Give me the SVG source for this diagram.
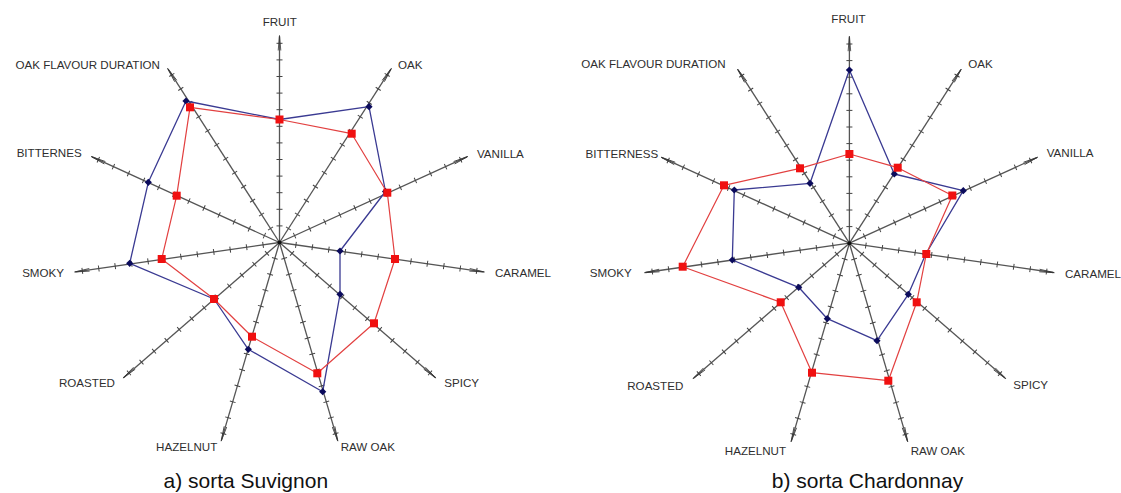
<svg xmlns="http://www.w3.org/2000/svg" xmlns:xlink="http://www.w3.org/1999/xlink" width="1121" height="493" viewBox="0 0 1121 493">
<style>
.bg{fill:#fff}
.axl{stroke:#555;stroke-width:1.3;fill:none}
.tk{stroke:#444;stroke-width:1;fill:none}
.ah{fill:none;stroke:#333;stroke-width:0.8}
.lbl{font-family:"Liberation Sans",Arial,sans-serif;font-size:11.6px;fill:#2e2e2e}
.cap{font-family:"Liberation Sans",Arial,sans-serif;font-size:21px;fill:#111}
.bl{fill:none;stroke:#3a3a92;stroke-width:1.3;stroke-linejoin:round}
.rl{fill:none;stroke:#e24040;stroke-width:1.2;stroke-linejoin:round}
.bm{fill:#0b0b5c}
.rm{fill:#f01010}
</style>
<defs>
<g id="ax">
<line class="axl" x1="0" y1="0" x2="0" y2="-206"/>
<path class="tk" d="M-3,-16.6h6M-3,-33.2h6M-3,-49.8h6M-3,-66.4h6M-3,-83h6M-3,-99.6h6M-3,-116.2h6M-3,-132.8h6M-3,-149.4h6M-3,-166h6M-3,-182.6h6M-3,-199.2h6"/>
<path class="ah" d="M-1.3,-192L0,-207L1.3,-192"/>
</g>
<rect id="sq" x="-4" y="-4" width="8" height="8"/>
<path id="dm" d="M0,-3.6L3.6,0L0,3.6L-3.6,0Z"/>
</defs>
<rect class="bg" x="0" y="0" width="1121" height="493"/>

<g id="chart-a">
<g id="axes-a" transform="translate(279.5,242.5)">
<use href="#ax" transform="rotate(0)"/>
<use href="#ax" transform="rotate(32.727)"/>
<use href="#ax" transform="rotate(65.455)"/>
<use href="#ax" transform="rotate(98.182)"/>
<use href="#ax" transform="rotate(130.909)"/>
<use href="#ax" transform="rotate(163.636)"/>
<use href="#ax" transform="rotate(196.364)"/>
<use href="#ax" transform="rotate(229.091)"/>
<use href="#ax" transform="rotate(261.818)"/>
<use href="#ax" transform="rotate(294.545)"/>
<use href="#ax" transform="rotate(327.273)"/>
<circle cx="0" cy="0" r="2" fill="#111"/>
</g>
<g id="labels-a">
<g id="a-fruit"><text class="lbl" x="279.7" y="26" text-anchor="middle">FRUIT</text></g>
<g id="a-oak"><text class="lbl" x="398" y="69.3">OAK</text></g>
<g id="a-vanilla"><text class="lbl" x="477" y="158.3">VANILLA</text></g>
<g id="a-caramel"><text class="lbl" x="495" y="276.7">CARAMEL</text></g>
<g id="a-spicy"><text class="lbl" x="444.3" y="386.7">SPICY</text></g>
<g id="a-rawoak"><text class="lbl" x="340.7" y="450.7">RAW OAK</text></g>
<g id="a-hazelnut"><text class="lbl" x="217.3" y="450.7" text-anchor="end">HAZELNUT</text></g>
<g id="a-roasted"><text class="lbl" x="115" y="386.7" text-anchor="end">ROASTED</text></g>
<g id="a-smoky"><text class="lbl" x="64" y="276.5" text-anchor="end">SMOKY</text></g>
<g id="a-bitternes"><text class="lbl" x="81.7" y="157" text-anchor="end">BITTERNES</text></g>
<g id="a-ofd"><text class="lbl" x="160" y="69.3" text-anchor="end">OAK FLAVOUR DURATION</text></g>
</g>
<g id="series-a">
<polygon class="bl" points="279.5,119.5 369,106.7 385.5,191.5 340,251 340,294.3 322.7,391.7 248.3,349.3 214,299 129.7,263.3 148.3,182.3 186,101"/>
<polygon class="rl" points="279.5,119.5 351.7,133.7 387.3,192.7 395,259 374,323.3 317.3,373.3 252,336.7 214,299 161.7,259 176.7,195.7 190,107.3"/>
<g class="bm">
<use href="#dm" x="279.5" y="119.5"/><use href="#dm" x="369" y="106.7"/><use href="#dm" x="385.5" y="191.5"/><use href="#dm" x="340" y="251"/><use href="#dm" x="340" y="294.3"/><use href="#dm" x="322.7" y="391.7"/><use href="#dm" x="248.3" y="349.3"/><use href="#dm" x="214" y="299"/><use href="#dm" x="129.7" y="263.3"/><use href="#dm" x="148.3" y="182.3"/><use href="#dm" x="186" y="101"/>
</g>
<g class="rm">
<use href="#sq" x="279.5" y="119.5"/><use href="#sq" x="351.7" y="133.7"/><use href="#sq" x="387.3" y="192.7"/><use href="#sq" x="395" y="259"/><use href="#sq" x="374" y="323.3"/><use href="#sq" x="317.3" y="373.3"/><use href="#sq" x="252" y="336.7"/><use href="#sq" x="214" y="299"/><use href="#sq" x="161.7" y="259"/><use href="#sq" x="176.7" y="195.7"/><use href="#sq" x="190" y="107.3"/>
</g>
</g>
<g id="caption-a"><text class="cap" x="245.8" y="488.3" text-anchor="middle">a) sorta Suvignon</text></g>
</g>

<g id="chart-b">
<g id="axes-b" transform="translate(849.4,243.2)">
<use href="#ax" transform="rotate(0)"/>
<use href="#ax" transform="rotate(32.727)"/>
<use href="#ax" transform="rotate(65.455)"/>
<use href="#ax" transform="rotate(98.182)"/>
<use href="#ax" transform="rotate(130.909)"/>
<use href="#ax" transform="rotate(163.636)"/>
<use href="#ax" transform="rotate(196.364)"/>
<use href="#ax" transform="rotate(229.091)"/>
<use href="#ax" transform="rotate(261.818)"/>
<use href="#ax" transform="rotate(294.545)"/>
<use href="#ax" transform="rotate(327.273)"/>
<circle cx="0" cy="0" r="2" fill="#111"/>
</g>
<g id="labels-b">
<g id="b-fruit"><text class="lbl" x="848.4" y="23.3" text-anchor="middle">FRUIT</text></g>
<g id="b-oak"><text class="lbl" x="968.3" y="68.3">OAK</text></g>
<g id="b-vanilla"><text class="lbl" x="1046.7" y="157.3">VANILLA</text></g>
<g id="b-caramel"><text class="lbl" x="1065" y="278.3">CARAMEL</text></g>
<g id="b-spicy"><text class="lbl" x="1013.3" y="389.3">SPICY</text></g>
<g id="b-rawoak"><text class="lbl" x="910.7" y="455">RAW OAK</text></g>
<g id="b-hazelnut"><text class="lbl" x="786" y="455" text-anchor="end">HAZELNUT</text></g>
<g id="b-roasted"><text class="lbl" x="683.3" y="390" text-anchor="end">ROASTED</text></g>
<g id="b-smoky"><text class="lbl" x="631.7" y="277.3" text-anchor="end">SMOKY</text></g>
<g id="b-bitterness"><text class="lbl" x="658.3" y="158.3" text-anchor="end">BITTERNESS</text></g>
<g id="b-ofd"><text class="lbl" x="725.7" y="68.3" text-anchor="end">OAK FLAVOUR DURATION</text></g>
</g>
<g id="series-b">
<polygon class="bl" points="849.4,70 894.3,174 963.3,190.7 925.8,254 908.3,294.3 877,340.7 827.3,318.7 798.7,287.3 732.3,260 734.3,190 810,183.3"/>
<polygon class="rl" points="849.4,154 897.7,167.7 952.3,195.5 926.3,254 916.7,302.3 888.3,380.7 812,372.7 780.7,302.3 682.7,266.7 724,185.3 800,168.3"/>
<g class="bm">
<use href="#dm" x="849.4" y="70"/><use href="#dm" x="894.3" y="174"/><use href="#dm" x="963.3" y="190.7"/><use href="#dm" x="925.8" y="254"/><use href="#dm" x="908.3" y="294.3"/><use href="#dm" x="877" y="340.7"/><use href="#dm" x="827.3" y="318.7"/><use href="#dm" x="798.7" y="287.3"/><use href="#dm" x="732.3" y="260"/><use href="#dm" x="734.3" y="190"/><use href="#dm" x="810" y="183.3"/>
</g>
<g class="rm">
<use href="#sq" x="849.4" y="154"/><use href="#sq" x="897.7" y="167.7"/><use href="#sq" x="952.3" y="195.5"/><use href="#sq" x="926.3" y="254"/><use href="#sq" x="916.7" y="302.3"/><use href="#sq" x="888.3" y="380.7"/><use href="#sq" x="812" y="372.7"/><use href="#sq" x="780.7" y="302.3"/><use href="#sq" x="682.7" y="266.7"/><use href="#sq" x="724" y="185.3"/><use href="#sq" x="800" y="168.3"/>
</g>
</g>
<g id="caption-b"><text class="cap" x="867.5" y="488.3" text-anchor="middle">b) sorta Chardonnay</text></g>
</g>
</svg>
